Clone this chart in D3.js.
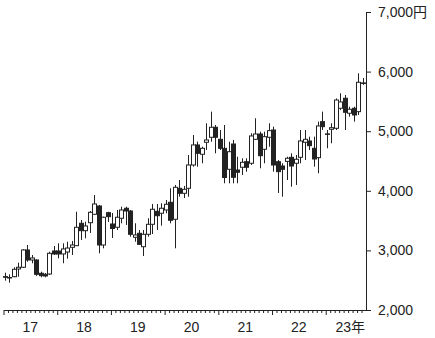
<!DOCTYPE html>
<html>
<head>
<meta charset="utf-8">
<script src="https://cdn.jsdelivr.net/npm/d3@7"></script>
<style>
  body { margin: 0; background: #fff; }
  svg { display: block; }
  text { font-family: "Liberation Sans", Arial, "Noto Sans CJK JP", sans-serif; fill: #222; }
</style>
</head>
<body>
<div id="chart"></div>
<script>
// monthly candles, Jan 2017 .. Sep 2023 (yen)
var opens  = [2560,2540,2559,2688,2717,3007,2839,2839,2616,2599,2604,2990,2990,2940,2973,3052,3079,3455,3331,3465,
              3606,3745,3091,3633,3443,3388,3539,3707,3661,3220,3287,3062,3270,3438,3656,3623,3678,3807,3522,4042,
              3958,4042,4433,4769,4613,4814,4898,5066,4864,4713,4361,4785,4349,4395,4488,4462,4864,4953,4697,4898,
              5020,4488,4416,4494,4562,4462,4562,4814,4836,4713,4556,5160,4955,5032,5049,5385,5553,5301,5385,5328,5810];
var highs  = [2626,2599,2717,2794,3020,3091,2923,2851,2643,2621,2978,3074,3119,3119,3146,3158,3649,3510,3482,3661,
              3930,3762,3566,3649,3628,3678,3733,3733,3678,3455,3342,3342,3539,3779,3779,3790,3846,4042,4098,4181,
              4081,4601,4937,4825,4740,5133,5328,5104,5020,5104,4824,4853,4572,4545,4545,4965,5217,4992,4992,5133,
              5076,4517,4462,4572,4629,4601,5020,5020,4908,4908,5160,5328,5020,5133,5550,5636,5608,5411,5411,5972,5893];
var lows   = [2492,2458,2549,2559,2705,2810,2784,2571,2549,2549,2587,2923,2868,2784,2861,2923,3079,3175,3203,3292,
              3594,2951,3035,3477,3208,3342,3455,3426,3230,3146,3091,2906,3230,3275,3342,3415,3623,3455,3035,3901,
              3879,3901,4405,4405,4462,4685,4824,4629,4685,4126,4126,4126,4126,4265,4321,4433,4853,4378,4462,4740,
              4321,3963,3901,4181,4069,4098,4462,4517,4685,4405,4294,5020,4713,4797,5020,5356,5020,5244,5160,5272,5776];
var closes = [2550,2545,2683,2717,3007,2839,2873,2599,2576,2571,2951,2940,2940,3024,3040,3091,3388,3331,3410,3639,
              3779,3091,3556,3566,3368,3556,3678,3661,3270,3259,3102,3270,3438,3690,3582,3707,3774,3505,4059,3958,
              4025,4433,4769,4629,4713,4853,5066,4898,4713,4223,4656,4227,4311,4478,4395,4920,4953,4589,4908,5009,
              4433,4321,4361,4546,4416,4529,4836,4864,4757,4534,5088,5076,4950,5059,5523,5491,5317,5368,5272,5821,5805];
var yearLabels = ["17", "18", "19", "20", "21", "22", "23年"];
var yTicks = [2000, 3000, 4000, 5000, 6000, 7000];

var width = 435, height = 338;
var svg = d3.select("#chart").append("svg")
  .attr("width", width)
  .attr("height", height);

var nMonths = opens.length;
var x = d3.scaleLinear().domain([0, nMonths]).range([3.5, 366]);
var y = d3.scaleLinear().domain([2000, 7000]).range([310, 12]);

var candles = opens.map(function(o, i){
  return {i: i, o: o, h: highs[i], l: lows[i], c: closes[i]};
});

// y axis on the right
var yAxis = d3.axisRight(y)
  .tickValues(yTicks)
  .tickSize(5)
  .tickSizeOuter(0)
  .tickPadding(7)
  .tickFormat(function(d){ return d === 7000 ? d3.format(",")(d) + "円" : d3.format(",")(d); });

var gy = svg.append("g")
  .attr("transform", "translate(" + x(nMonths) + ",0)")
  .call(yAxis);
gy.selectAll("text").style("font-size", "14px").attr("fill", "#222");
gy.selectAll("line, path").attr("stroke", "#222");

// x axis with monthly ticks, longer at January
var xAxis = d3.axisBottom(x)
  .tickValues(d3.range(0, nMonths))
  .tickSize(3)
  .tickSizeOuter(0)
  .tickFormat("");

var gx = svg.append("g")
  .attr("transform", "translate(0," + y(2000) + ")")
  .call(xAxis);
gx.selectAll(".tick line")
  .attr("y2", function(d){ return d % 12 === 0 ? 5 : 3; });
gx.selectAll("line, path").attr("stroke", "#222");

svg.append("g").selectAll("text")
  .data(yearLabels)
  .enter()
  .append("text")
  .attr("x", function(d, k){
    if (k === yearLabels.length - 1) return x(nMonths) - 1;
    return x(k * 12 + 6);
  })
  .attr("y", 332)
  .attr("text-anchor", function(d, k){ return k === yearLabels.length - 1 ? "end" : "middle"; })
  .style("font-size", "14px")
  .text(function(d){ return d; });

// candles: white = up month, black = down month
var g = svg.append("g");
var cx = function(d){ return Math.round(x(d.i + 0.5)) - 1; };

g.selectAll("line.wick")
  .data(candles)
  .enter()
  .append("line")
  .attr("class", "wick")
  .attr("x1", function(d){ return cx(d) + 0.5; })
  .attr("x2", function(d){ return cx(d) + 0.5; })
  .attr("y1", function(d){ return y(d.h); })
  .attr("y2", function(d){ return y(d.l); })
  .attr("stroke", "#222")
  .attr("stroke-width", 1);

g.selectAll("rect.body")
  .data(candles)
  .enter()
  .append("rect")
  .attr("class", "body")
  .attr("x", function(d){ return cx(d) - 1.5; })
  .attr("width", 4)
  .attr("y", function(d){ return y(Math.max(d.o, d.c)); })
  .attr("height", function(d){ return Math.max(0.5, Math.abs(y(d.o) - y(d.c))); })
  .attr("fill", function(d){ return d.c >= d.o ? "#fff" : "#222"; })
  .attr("stroke", "#222")
  .attr("stroke-width", 1);
</script>
</body>
</html>
